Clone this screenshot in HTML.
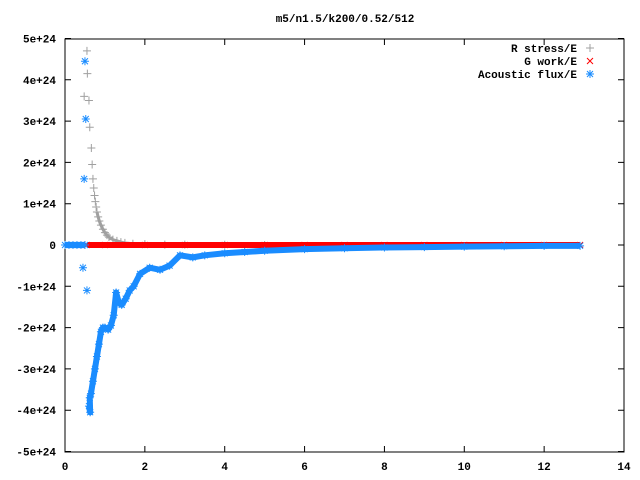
<!DOCTYPE html>
<html><head><meta charset="utf-8"><style>
body{margin:0;background:#fff}
svg{display:block;font-family:"Liberation Mono",monospace;font-size:11px;font-weight:bold}
</style></head><body>
<svg id="c" width="640" height="480">
<text x="345" y="22" text-anchor="middle">m5/n1.5/k200/0.52/512</text>
<rect x="65" y="39" width="559" height="413" fill="none" stroke="#000" stroke-width="1"/>
<g id="axes"></g>
<g id="series"></g>
<g>
<text x="577" y="52" text-anchor="end">R stress/E</text>
<text x="577" y="65" text-anchor="end">G work/E</text>
<text x="577" y="78" text-anchor="end">Acoustic flux/E</text>
<path d="M586 48h8M590 44v8" stroke="#a0a0a0"/>
<path d="M587 58l6 6M593 58l-6 6" stroke="#f00"/>
<path d="M586 74h8M590 70v8M587 71l6 6M593 71l-6 6" stroke="#1a8cff"/>
</g>
</svg>
<script>
const xTicks=[0,2,4,6,8,10,12,14];
const yTicks=[5,4,3,2,1,0,-1,-2,-3,-4,-5];
const yTickLabels=["5e+24","4e+24","3e+24","2e+24","1e+24","0","-1e+24","-2e+24","-3e+24","-4e+24","-5e+24"];
const rStressX=[0.55,0.56,0.48,0.6,0.62,0.66,0.68,0.7,0.72,0.74,0.76,0.78,0.8,0.83,0.86,0.9,0.95,1.0,1.05,1.1,1.2,1.3,1.4,1.5,1.7,2.0,2.5,3,4,5];
const rStressY=[4.7,4.15,3.6,3.5,2.85,2.35,1.95,1.6,1.38,1.2,1.05,0.92,0.8,0.68,0.58,0.48,0.38,0.3,0.24,0.19,0.13,0.1,0.07,0.05,0.03,0.02,0.01,0.01,0.005,0];
const gWorkX=[0.55,1,2,3,4,5,6,7,8,9,10,11,12,12.9];
const gWorkY=[0,0,0,0,0,0,0,0,0,0,0,0,0,0];
const acBaseX=[0,0.1,0.2,0.3,0.4,0.5];
const acBaseY=[0,0,0,0,0,0];
const acX=[0.5,0.52,0.48,0.45,0.55,0.6,0.63,0.62,0.65,0.7,0.75,0.8,0.85,0.9,0.95,1.0,1.08,1.15,1.22,1.28,1.35,1.42,1.52,1.62,1.72,1.88,2.12,2.38,2.62,2.88,3.2,3.5,4,4.5,5,6,7,8,9,10,11,12,12.9];
const acY=[4.45,3.05,1.6,-0.55,-1.1,-3.9,-4.05,-3.7,-3.6,-3.3,-3.0,-2.7,-2.4,-2.1,-2.0,-2.0,-2.05,-1.95,-1.7,-1.15,-1.4,-1.45,-1.3,-1.1,-1.0,-0.7,-0.55,-0.6,-0.5,-0.25,-0.3,-0.25,-0.2,-0.17,-0.14,-0.1,-0.08,-0.06,-0.05,-0.04,-0.03,-0.02,-0.02];
const X=v=>65+v*(559/14), Y=v=>245-v*41.3;
const NS="http://www.w3.org/2000/svg";
function mk(t,a,p){const e=document.createElementNS(NS,t);for(const k in a)e.setAttribute(k,a[k]);p.appendChild(e);return e;}
const ax=document.getElementById('axes'), se=document.getElementById('series');
xTicks.forEach(v=>{
 const t=mk('path',{d:`M${X(v)} 452v-6M${X(v)} 39v6`,stroke:'#000'},ax);
 
 
 const l=mk('text',{x:X(v),y:470,'text-anchor':'middle'},ax);l.textContent=v;
 
 
});
yTicks.forEach((v,i)=>{
 const t=mk('path',{d:`M65 ${Y(v)}h6M624 ${Y(v)}h-6`,stroke:'#000'},ax);
 
 
 const l=mk('text',{x:56,y:Y(v)+4,'text-anchor':'end'},ax);l.textContent=yTickLabels[i];
 
 
});
function band(xs,ys,col,w,name){
 const d=xs.map((x,i)=>(i?'L':'M')+X(x)+' '+Y(ys[i])).join('');
 const p=mk('path',{d:d,stroke:col,'stroke-width':w,fill:'none','stroke-linejoin':'round'},se);
 
 
}
function marks(xs,ys,col,kind,name){
 xs.forEach((x,i)=>{const cx=X(x),cy=Y(ys[i]);let d;
  if(kind==='+')d=`M${cx-4} ${cy}h8M${cx} ${cy-4}v8`;
  else if(kind==='x')d=`M${cx-3} ${cy-3}l6 6M${cx+3} ${cy-3}l-6 6`;
  else d=`M${cx-4} ${cy}h8M${cx} ${cy-4}v8M${cx-3} ${cy-3}l6 6M${cx+3} ${cy-3}l-6 6`;
  const p=mk('path',{d:d,stroke:col,fill:'none'},se);
  
  
 });
}
marks(rStressX,rStressY,'#a0a0a0','+','r-stress-point');
band(rStressX.slice(12),rStressY.slice(12),'#a0a0a0',3,'r-stress-band');
band(gWorkX,gWorkY,'#ff0000',6,'g-work-band');
marks(gWorkX,gWorkY,'#ff0000','x','g-work-point');
band(acBaseX,acBaseY,'#1a8cff',6,'acoustic-base-band');
band(acX.slice(5),acY.slice(5),'#1a8cff',6,'acoustic-band');
marks(acX,acY,'#1a8cff','*','acoustic-point');
marks(acBaseX,acBaseY,'#1a8cff','*','acoustic-base-point');
</script>
</body></html>
